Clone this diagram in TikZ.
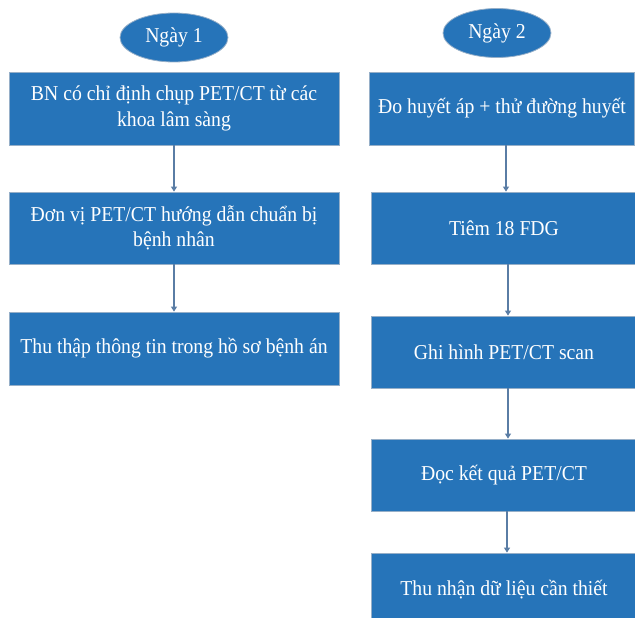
\documentclass[tikz,border=0pt]{standalone}
\usepackage{fontspec}
\setmainfont{Liberation Serif}[FakeStretch=0.93]
\usetikzlibrary{shapes.geometric,arrows.meta}
\definecolor{boxblue}{RGB}{38,116,185}
\definecolor{boxedge}{RGB}{150,175,200}
\definecolor{arrowc}{RGB}{90,125,165}
\tikzset{
  stepbox/.style={rectangle, fill=boxblue, draw=boxedge, line width=0.8pt,
    text=white, align=center, inner sep=0pt,
    font=\fontsize{21.2}{25.5}\selectfont},
  daybubble/.style={ellipse, fill=boxblue, draw=boxedge, line width=0.8pt,
    text=white, inner sep=0pt, minimum width=108, minimum height=49,
    font=\fontsize{21.2}{25.5}\selectfont},
  flow/.style={draw=arrowc, line width=1.1pt, -{Triangle[width=6pt,length=5pt]}}
}
\begin{document}
\begin{tikzpicture}[x=1pt,y=-1pt]
\useasboundingbox (0,0) rectangle (635,618);
\clip (0,0) rectangle (635,618);
% day bubbles
\node[daybubble] (d1) at (174,37.5) {Ngày 1};
\node[daybubble] (d2) at (497,33) {Ngày 2};
% left column
\node[stepbox, minimum width=330, minimum height=73] (l1) at (174,108.5)
  {BN có chỉ định chụp PET/CT từ các\\khoa lâm sàng};
\node[stepbox, minimum width=330, minimum height=72] (l2) at (174,228)
  {Đơn vị PET/CT hướng dẫn chuẩn bị\\bệnh nhân};
\node[stepbox, minimum width=330, minimum height=73] (l3) at (174,348.5)
  {Thu thập thông tin trong hồ sơ bệnh án};
% right column
\node[stepbox, minimum width=265, minimum height=73] (r1) at (502,108.5)
  {Đo huyết áp + thử đường huyết};
\node[stepbox, minimum width=265, minimum height=72] (r2) at (504,228)
  {Tiêm 18 FDG};
\node[stepbox, minimum width=265, minimum height=72] (r3) at (504,352)
  {Ghi hình PET/CT scan};
\node[stepbox, minimum width=265, minimum height=72] (r4) at (504,475)
  {Đọc kết quả PET/CT};
\node[stepbox, minimum width=265, minimum height=73] (r5) at (504,589.5)
  {Thu nhận dữ liệu cần thiết};
% connectors
\draw[flow] (l1.south) -- (l2.north);
\draw[flow] (l2.south) -- (l3.north);
\draw[flow] ([xshift=4]r1.south) -- ([xshift=2]r2.north);
\draw[flow] ([xshift=4]r2.south) -- ([xshift=4]r3.north);
\draw[flow] ([xshift=4]r3.south) -- ([xshift=4]r4.north);
\draw[flow] ([xshift=3]r4.south) -- ([xshift=3]r5.north);
\end{tikzpicture}
\end{document}
